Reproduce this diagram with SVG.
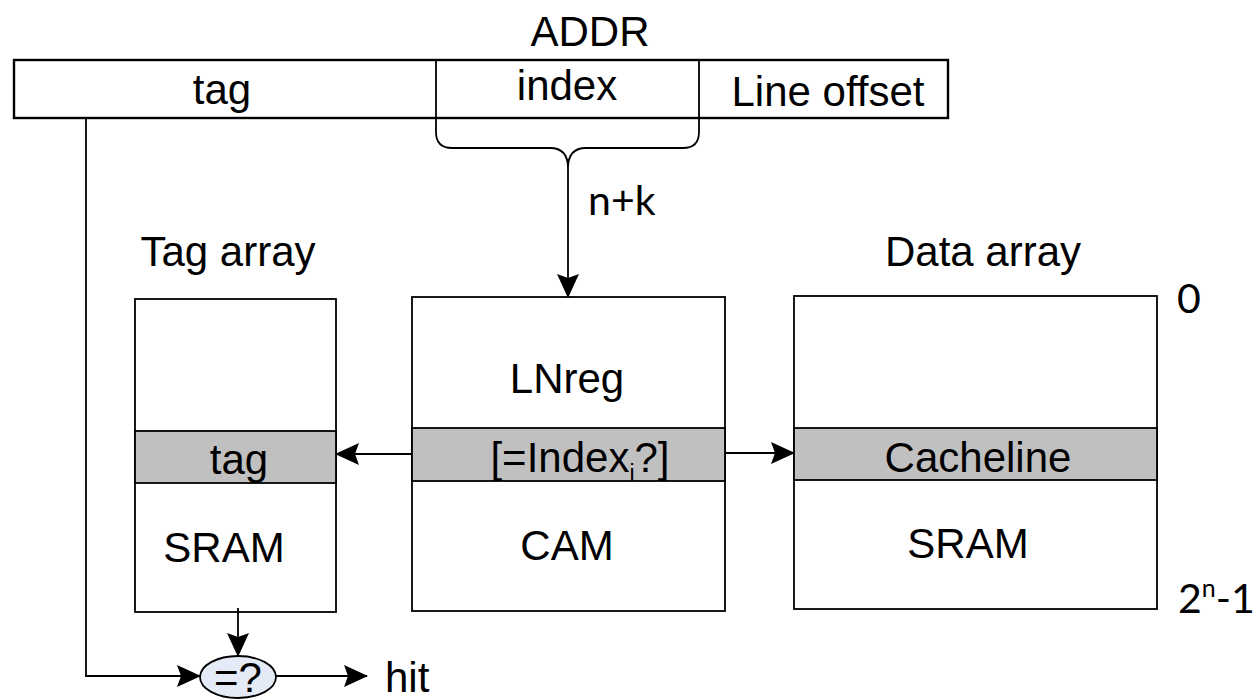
<svg xmlns="http://www.w3.org/2000/svg" width="1260" height="699" viewBox="0 0 1260 699">
  <style>
    .lbl { font-family: "Liberation Sans", Arial, sans-serif; font-size: 42px; fill: #000; }
    .num { font-family: Lato, "Open Sans", sans-serif; font-size: 41px; fill: #000; }
    .box { fill: #fff; stroke: #000; stroke-width: 1.8; }
    .row { fill: #c0c0c0; stroke: #000; stroke-width: 1.8; }
    .wire { fill: none; stroke: #000; stroke-width: 1.8; }
  </style>
  <defs>
    <marker id="arrow" viewBox="0 0 24 24" refX="23" refY="12" markerWidth="24" markerHeight="24" markerUnits="userSpaceOnUse" orient="auto">
      <path d="M0,1 L24,12 L0,23 L4,12 Z" fill="#000"/>
    </marker>
  </defs>

  <rect width="1260" height="699" fill="#fff"/>

  <!-- address word -->
  <g id="addr">
    <text class="lbl" x="590" y="46" text-anchor="middle">ADDR</text>
    <rect x="14" y="60" width="934" height="58" fill="#fff" stroke="#000" stroke-width="2.4"/>
    <text class="lbl" x="222" y="104" text-anchor="middle">tag</text>
    <text class="lbl" x="567" y="100" text-anchor="middle">index</text>
    <text class="lbl" x="828" y="106" text-anchor="middle">Line offset</text>
  </g>

  <!-- brace grouping the index field -->
  <g id="index-brace">
    <path class="wire" d="M436,60 V132 Q436,148 452,148 H550 Q568,148 568,168 Q568,148 586,148 H683 Q699,148 699,132 V60"/>
    <text class="num" x="588" y="215" font-size="44">n+k</text>
  </g>

  <!-- tag array -->
  <g id="tag-array">
    <text class="lbl" x="228" y="266" text-anchor="middle">Tag array</text>
    <rect class="box" x="135" y="299" width="201" height="313"/>
    <rect class="row" x="135" y="431" width="201" height="52"/>
    <text class="lbl" x="239" y="474" text-anchor="middle">tag</text>
    <text class="lbl" x="224" y="562" text-anchor="middle">SRAM</text>
  </g>

  <!-- line number register (CAM) -->
  <g id="cam">
    <rect class="box" x="412" y="297" width="313" height="314"/>
    <rect class="row" x="412" y="428" width="313" height="53"/>
    <text class="lbl" x="567" y="393" text-anchor="middle">LNreg</text>
    <text class="lbl" x="580" y="472" text-anchor="middle">[=Index<tspan font-size="23" dy="9">i</tspan><tspan dy="-9">?]</tspan></text>
    <text class="lbl" x="567" y="560" text-anchor="middle">CAM</text>
  </g>

  <!-- data array -->
  <g id="data-array">
    <text class="lbl" x="983" y="266" text-anchor="middle">Data array</text>
    <rect class="box" x="794" y="296" width="363" height="313"/>
    <rect class="row" x="794" y="428" width="363" height="52"/>
    <text class="lbl" x="978" y="472" text-anchor="middle">Cacheline</text>
    <text class="lbl" x="968" y="558" text-anchor="middle">SRAM</text>
    <text class="num" x="1177" y="313">0</text>
    <text class="num" x="1178" y="613">2<tspan font-size="25" dy="-16">n</tspan><tspan dy="16">-1</tspan></text>
  </g>

  <!-- tag comparator -->
  <g id="compare">
    <ellipse cx="238" cy="677" rx="38" ry="21" fill="#e4eaf6" stroke="#000" stroke-width="1.8"/>
    <text class="lbl" x="238" y="692" text-anchor="middle" font-size="34">=?</text>
  </g>

  <g id="hit">
    <text class="lbl" x="385" y="692">hit</text>
  </g>

  <!-- connectors -->
  <g id="connectors">
    <line class="wire" x1="568" y1="168" x2="568" y2="297" marker-end="url(#arrow)"/>
    <line class="wire" x1="412" y1="454" x2="336" y2="454" marker-end="url(#arrow)"/>
    <line class="wire" x1="725" y1="453" x2="794" y2="453" marker-end="url(#arrow)"/>
    <path class="wire" d="M86,118 V676 H200" marker-end="url(#arrow)"/>
    <line class="wire" x1="238" y1="608" x2="238" y2="656" marker-end="url(#arrow)"/>
    <line class="wire" x1="276" y1="676" x2="367" y2="676" marker-end="url(#arrow)"/>
  </g>
</svg>
